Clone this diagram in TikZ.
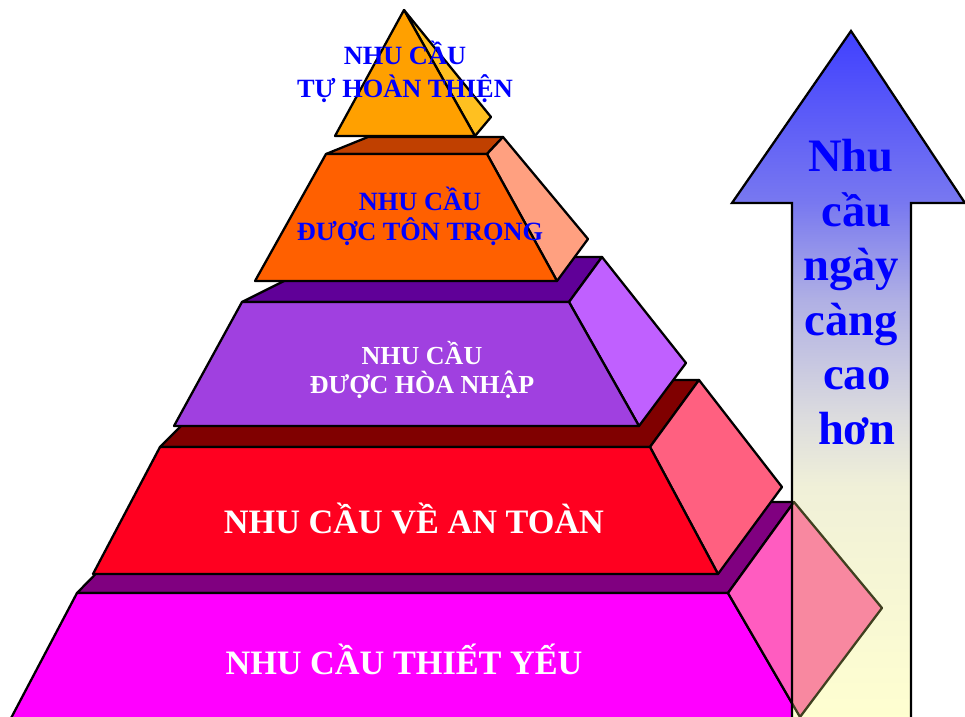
\documentclass[tikz,border=0pt]{standalone}
\usepackage{fontspec}
\setmainfont{Liberation Serif}

\definecolor{lvlAfront}{HTML}{FF00FF}
\definecolor{lvlAtop}{HTML}{800080}
\definecolor{lvlAside}{HTML}{FF5CC0}
\definecolor{lvlAmix}{HTML}{F888A0}
\definecolor{lvlBfront}{HTML}{FF0020}
\definecolor{lvlBtop}{HTML}{800000}
\definecolor{lvlBside}{HTML}{FF6080}
\definecolor{lvlCfront}{HTML}{A040E0}
\definecolor{lvlCtop}{HTML}{600098}
\definecolor{lvlCside}{HTML}{C060FF}
\definecolor{lvlDfront}{HTML}{FF6000}
\definecolor{lvlDtop}{HTML}{C04000}
\definecolor{lvlDside}{HTML}{FFA080}
\definecolor{lvlEfront}{HTML}{FFA000}
\definecolor{lvlEside}{HTML}{FFC020}
\definecolor{sideline}{HTML}{404020}
\definecolor{txtblue}{HTML}{0000FF}

% arrow fill, blue at the tip to pale yellow at the foot
\pgfdeclareverticalshading{risefill}{100bp}{
	color(0bp)=(rgb,255:red,255;green,255;blue,208);
	color(25bp)=(rgb,255:red,255;green,255;blue,208);
	color(42bp)=(rgb,255:red,240;green,240;blue,216);
	color(47bp)=(rgb,255:red,220;green,220;blue,222);
	color(55.5bp)=(rgb,255:red,176;green,176;blue,228);
	color(62.6bp)=(rgb,255:red,120;green,120;blue,240);
	color(75bp)=(rgb,255:red,64;green,64;blue,255);
	color(100bp)=(rgb,255:red,64;green,64;blue,255)}

\begin{document}
\begin{tikzpicture}[x=0.02cm, y=-0.02cm,
		face/.style={draw=black, line width=1.3pt, line join=round},
		lbl/.style={align=center, inner sep=0pt},
	]
	\path[use as bounding box] (0,0) rectangle (965,717);
	\begin{scope}
		\clip (0,0) rectangle (965,717);
		% level 1
		\draw[face, fill=lvlAtop] (77,593) -- (166,502) -- (794,502) -- (728,593) -- cycle;
		\draw[face, fill=lvlAfront] (77,593) -- (728,593) -- (803,722) -- (9,722) -- cycle;
		\draw[face, fill=lvlAside] (728,593) -- (794,502) -- (882,608) -- (800,717) -- cycle;
		% level 2
		\draw[face, fill=lvlBtop] (160,447) -- (227,380) -- (699,380) -- (650,447) -- cycle;
		\draw[face, fill=lvlBside] (650,447) -- (699,380) -- (782,487) -- (718,574) -- cycle;
		\draw[face, fill=lvlBfront] (93,574) -- (160,447) -- (650,447) -- (718,574) -- cycle;
		% level 3
		\draw[face, fill=lvlCtop] (242,302) -- (332,257) -- (602,257) -- (569,302) -- cycle;
		\draw[face, fill=lvlCside] (569,302) -- (602,257) -- (686,363) -- (639,426) -- cycle;
		\draw[face, fill=lvlCfront] (174,426) -- (242,302) -- (569,302) -- (639,426) -- cycle;
		% level 4
		\draw[face, fill=lvlDtop] (326,154) -- (368,137) -- (503,137) -- (487,154) -- cycle;
		\draw[face, fill=lvlDside] (487,154) -- (503,137) -- (588,239) -- (557,281) -- cycle;
		\draw[face, fill=lvlDfront] (255,281) -- (326,154) -- (487,154) -- (557,281) -- cycle;
		% level 5
		\draw[face, fill=lvlEside] (404,10) -- (491,117) -- (475,136) -- cycle;
		\draw[face, fill=lvlEfront] (335,136) -- (404,10) -- (475,136) -- cycle;

		\shade[shading=risefill] (851,31) -- (965,203) -- (911,203) -- (911,722) -- (792,722) -- (792,203) -- (732,203) -- cycle;
		\begin{scope}
			\clip (792,203) rectangle (911,717);
			\draw[face, draw=sideline, fill=lvlAmix] (728,593) -- (794,502) -- (882,608) -- (800,717) -- cycle;
		\end{scope}
		\draw[line width=1.3pt] (792,722) -- (792,203) -- (732,203) -- (851,31) -- (965,203) -- (911,203) -- (911,722);
	\end{scope}

	\node[lbl, text=txtblue, font=\fontsize{15}{19}\selectfont\bfseries] (self) at (405,72) {NHU CẦU\\TỰ HOÀN THIỆN};
	\node[lbl, text=txtblue, font=\fontsize{15}{17}\selectfont\bfseries] (esteem) at (420,216) {NHU CẦU\\ĐƯỢC TÔN TRỌNG};
	\node[lbl, text=white, font=\fontsize{14.8}{17}\selectfont\bfseries] (belong) at (422,370) {NHU CẦU\\ĐƯỢC HÒA NHẬP};
	\node[lbl, text=white, font=\fontsize{19.5}{23}\selectfont\bfseries, anchor=base] (safety) at (414,533) {NHU CẦU VỀ AN TOÀN};
	\node[lbl, text=white, font=\fontsize{19.5}{23}\selectfont\bfseries, anchor=base] (basic) at (404,674) {NHU CẦU THIẾT YẾU};
	\node[lbl, text=txtblue, font=\fontsize{26.5}{31}\selectfont\bfseries] (rise) at (851,292) {Nhu\\\ cầu\\ngày\\càng\\\ cao\\\ hơn};
\end{tikzpicture}
\end{document}
